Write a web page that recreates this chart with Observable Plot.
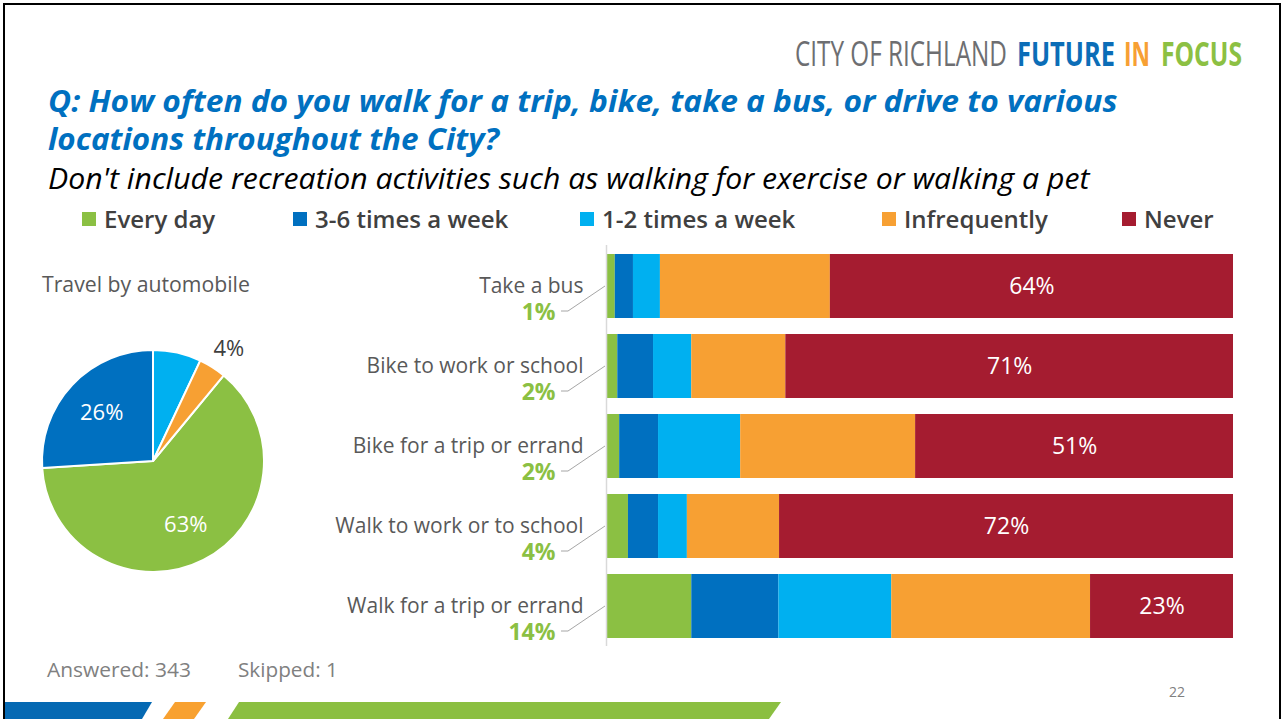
<!DOCTYPE html>
<html>
<head>
<meta charset="utf-8">
<script src="https://cdn.jsdelivr.net/npm/d3@7"></script>
<script src="https://cdn.jsdelivr.net/npm/@observablehq/plot@0.6"></script>
<style>
html, body { margin: 0; padding: 0; background: #fff; }
#slide { position: relative; width: 1281px; height: 719px; overflow: hidden; background: #fff; font-family: "Open Sans", sans-serif; }
#frame { position: absolute; left: 3px; top: 3px; width: 1278px; height: 740px; border: 2.5px solid #000; box-sizing: border-box; }
#deco { position: absolute; left: 0; top: 0; }
#legend { position: absolute; left: 82px; top: 202px; width: 1180px; }
#pie { position: absolute; left: 28px; top: 336px; }
#bars { position: absolute; left: 300px; top: 240px; }
#legend > div { font-family: "Open Sans", sans-serif !important; font-size: 24px !important; font-weight: 600 !important; color: #404040 !important; margin: 0 !important; flex-wrap: nowrap !important; }
#legend span { margin-right: 0 !important; white-space: nowrap; }
#legend span > svg { margin-right: 8px !important; }
#legend span:nth-of-type(1) { width: 211px; }
#legend span:nth-of-type(2) { width: 287px; }
#legend span:nth-of-type(3) { width: 302px; }
#legend span:nth-of-type(4) { width: 240px; }
</style>
</head>
<body>
<div id="slide">
  <div id="frame"></div>
  <svg id="deco" width="1281" height="719" xmlns="http://www.w3.org/2000/svg">
    <g font-family="'Liberation Sans Narrow', 'Open Sans', sans-serif" font-size="34">
      <text x="795" y="66.5" fill="#6d6e71" data-w="212">CITY OF RICHLAND</text>
      <text x="1017" y="66.5" fill="#0b6db7" font-weight="bold" data-w="98">FUTURE</text>
      <text x="1124" y="66.5" fill="#f7a033" font-weight="bold" data-w="26">IN</text>
      <text x="1161" y="66.5" fill="#8cc043" font-weight="bold" data-w="81">FOCUS</text>
    </g>
    <g font-family="'Open Sans', sans-serif" font-style="italic">
      <text x="48" y="112" font-size="31" font-weight="bold" fill="#0070c0" data-w="1070">Q: How often do you walk for a trip, bike, take a bus, or drive to various</text>
      <text x="48" y="150" font-size="31" font-weight="bold" fill="#0070c0" data-w="451">locations throughout the City?</text>
      <text x="48" y="189" font-size="30" fill="#000" data-w="1042">Don't include recreation activities such as walking for exercise or walking a pet</text>
    </g>
    <g font-family="'Open Sans', sans-serif">
      <text x="42" y="292" font-size="21" fill="#595959" data-w="208">Travel by automobile</text>
      <text x="47" y="677" font-size="20.5" fill="#808080" data-w="144">Answered: 343</text>
      <text x="238" y="677" font-size="20.5" fill="#808080" data-w="100">Skipped: 1</text>
      <text x="1169" y="697" font-size="14" fill="#808080">22</text>
    </g>
    <polygon points="5,702 152,702 142,719 5,719" fill="#0569b3"/>
    <polygon points="175,702 206,702 194,719 163,719" fill="#f8a130"/>
    <polygon points="239,702 781,702 769,719 228,719" fill="#8bbf41"/>
  </svg>
  <div id="legend"></div>
  <div id="pie"></div>
  <div id="bars"></div>
</div>
<script>
// ---- data ----
const categories = ["Take a bus", "Bike to work or school", "Bike for a trip or errand", "Walk to work or to school", "Walk for a trip or errand"];
const responses = ["Every day", "3-6 times a week", "1-2 times a week", "Infrequently", "Never"];
const everyDay     = [1.4, 1.8, 2.1, 3.5, 13.6];
const threeToSix   = [2.9, 5.7, 6.2, 4.8, 13.9];
const oneToTwo     = [4.3, 6.1, 13.1, 4.6, 18.0];
const infrequently = [27.1, 15.0, 27.9, 14.7, 31.7];
const never        = [64.3, 71.4, 50.7, 72.4, 22.8];
const autoShares   = [63, 26, 7, 4, 0];          // Travel by automobile (pie), same response order
const autoLabels   = ["63%", "26%", "", "4%", ""];
const colors = ["#8bc043", "#0070c0", "#00b0f0", "#f7a033", "#a51c30"];

const seriesValues = [everyDay, threeToSix, oneToTwo, infrequently, never];
const rows = categories.flatMap((c, i) => responses.map((r, j) => ({category: c, response: r, value: seriesValues[j][i]})));

// fit static header texts to their widths in the slide
document.querySelectorAll("#deco text[data-w]").forEach(t => {
  const w = t.getComputedTextLength();
  const x = +t.getAttribute("x"), y = +t.getAttribute("y");
  const s = (+t.dataset.w) / w;
  t.setAttribute("transform", `translate(${x},${y}) scale(${s},1) translate(${-x},${-y})`);
});

// ---- legend ----
const legend = Plot.legend({
  color: {domain: responses, range: colors},
  className: "lg",
  swatchSize: 14
});
document.getElementById("legend").append(legend);

// ---- stacked bars ----
function leaderMark(index, scales) {
  const x0 = scales.x(0);
  const bw = typeof scales.y.bandwidth === "function" ? scales.y.bandwidth() : (scales.scales && scales.scales.y ? scales.scales.y.bandwidth : 0);
  const g = d3.create("svg:g").attr("fill", "none").attr("stroke", "#a6a6a6").attr("stroke-width", 1);
  for (const c of categories) {
    const yc = scales.y(c) + bw / 2;
    g.append("path").attr("d", `M${x0 - 45},${yc + 25}H${x0 - 38}L${x0 - 1},${yc}`);
  }
  return g.node();
}

const bars = Plot.plot({
  width: 960,
  height: 420,
  marginLeft: 306,
  marginRight: 27,
  marginTop: 5,
  marginBottom: 14,
  style: {fontFamily: "'Open Sans', sans-serif", background: "transparent"},
  x: {domain: [0, 100], axis: null},
  y: {domain: categories, paddingInner: 0.2, paddingOuter: 0.1, axis: null},
  color: {domain: responses, range: colors},
  marks: [
    Plot.barX(rows, {x: "value", y: "category", fill: "response"}),
    Plot.ruleX([0], {stroke: "#d9d9d9", strokeWidth: 1.5}),
    Plot.text(categories, {x: 0, y: d => d, text: d => d, textAnchor: "end", lineAnchor: "bottom", dx: -23, dy: 6.5, fill: "#595959", fontSize: 21}),
    Plot.text(categories, {x: 0, y: d => d, text: (d, i) => Math.round(everyDay[i]) + "%", textAnchor: "end", lineAnchor: "bottom", dx: -51, dy: 33.5, fill: "#8bc043", fontSize: 23, fontWeight: "bold"}),
    Plot.text(rows, Plot.stackX({x: "value", y: "category", text: d => d.response === "Never" ? Math.round(d.value) + "%" : null, lineAnchor: "bottom", dy: 7.5, fill: "white", fontSize: 23})),
    leaderMark
  ]
});
document.getElementById("bars").append(bars);

// ---- pie ----
const pieStart = 2 * Math.PI * 0.11;
function pieMark(index, scales) {
  const cx = scales.x(0), cy = scales.y(0), r = scales.x(1) - scales.x(0);
  const arcs = d3.pie().sort(null).startAngle(pieStart).endAngle(pieStart + 2 * Math.PI)(autoShares);
  const g = d3.create("svg:g").attr("transform", `translate(${cx},${cy})`);
  const arc = d3.arc().innerRadius(0).outerRadius(r);
  g.selectAll("path").data(arcs.filter(a => a.value > 0)).join("path")
    .attr("d", arc)
    .attr("fill", d => scales.color ? scales.color(responses[d.index]) : colors[d.index])
    .attr("stroke", "#fff").attr("stroke-width", 2).attr("stroke-linejoin", "round");
  return g.node();
}
const pieArcs = d3.pie().sort(null).startAngle(pieStart).endAngle(pieStart + 2 * Math.PI)(autoShares);
const pieLabelRows = pieArcs.map((a, i) => {
  const mid = (a.startAngle + a.endAngle) / 2;
  const inside = a.value >= 10;
  const k = inside ? 0.64 : 1.2;
  return {x: k * Math.sin(mid), y: k * Math.cos(mid), label: autoLabels[i], inside};
}).filter(d => d.label);

const pie = Plot.plot({
  width: 250,
  height: 250,
  margin: 14,
  style: {fontFamily: "'Open Sans', sans-serif", background: "transparent", overflow: "visible"},
  x: {domain: [-1, 1], axis: null},
  y: {domain: [-1, 1], axis: null},
  marks: [
    pieMark,
    Plot.text(pieLabelRows.filter(d => d.inside), {x: "x", y: "y", text: "label", fill: "#ffffff", fontSize: 22}),
    Plot.text(pieLabelRows.filter(d => !d.inside), {x: "x", y: "y", text: "label", fill: "#404040", fontSize: 22, dx: 4})
  ]
});
document.getElementById("pie").append(pie);
</script>
</body>
</html>
